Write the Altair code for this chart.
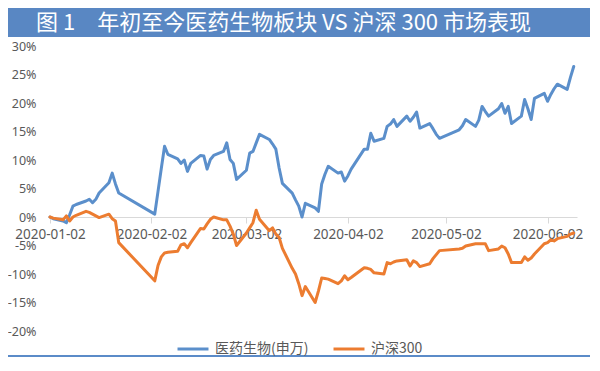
import altair as alt
import pandas as pd

title_text = "图 1　年初至今医药生物板块 VS 沪深 300 市场表现"
series_names = ["医药生物(申万)", "沪深300"]
series_colors = ["#5B8FCB", "#EC7C30"]

med_dates = [
    "2020-01-02", "2020-01-03", "2020-01-06", "2020-01-07", "2020-01-08", "2020-01-09", "2020-01-10",
    "2020-01-13", "2020-01-14", "2020-01-15", "2020-01-16", "2020-01-17", "2020-01-20", "2020-01-21",
    "2020-01-22", "2020-01-23", "2020-02-03", "2020-02-04", "2020-02-05", "2020-02-06", "2020-02-07",
    "2020-02-10", "2020-02-11", "2020-02-12", "2020-02-13", "2020-02-14", "2020-02-17", "2020-02-18",
    "2020-02-19", "2020-02-20", "2020-02-21", "2020-02-24", "2020-02-25", "2020-02-26", "2020-02-27",
    "2020-02-28", "2020-03-02", "2020-03-03", "2020-03-04", "2020-03-05", "2020-03-06", "2020-03-09",
    "2020-03-10", "2020-03-11", "2020-03-12", "2020-03-13", "2020-03-16", "2020-03-17", "2020-03-18",
    "2020-03-19", "2020-03-20", "2020-03-23", "2020-03-24", "2020-03-25", "2020-03-26", "2020-03-27",
    "2020-03-30", "2020-03-31", "2020-04-01", "2020-04-02", "2020-04-03", "2020-04-07", "2020-04-08",
    "2020-04-09", "2020-04-10", "2020-04-13", "2020-04-14", "2020-04-15", "2020-04-16", "2020-04-17",
    "2020-04-20", "2020-04-21", "2020-04-22", "2020-04-23", "2020-04-24", "2020-04-27", "2020-04-28",
    "2020-04-29", "2020-04-30", "2020-05-06", "2020-05-07", "2020-05-08", "2020-05-11", "2020-05-12",
    "2020-05-13", "2020-05-14", "2020-05-15", "2020-05-18", "2020-05-19", "2020-05-20", "2020-05-21",
    "2020-05-22", "2020-05-25", "2020-05-26", "2020-05-27", "2020-05-28", "2020-05-29", "2020-06-01",
    "2020-06-02", "2020-06-03", "2020-06-04", "2020-06-05", "2020-06-08", "2020-06-09", "2020-06-10",
]
med_values = [
    0.0, -0.3, -0.7, -1.0, 0.4, 1.9, 2.2,
    2.8, 3.1, 2.5, 3.1, 4.2, 6.0, 7.7,
    5.8, 4.2, 0.5, 4.5, 8.5, 12.4, 11.0,
    10.2, 9.4, 10.0, 8.0, 9.4, 10.8, 10.7,
    8.4, 10.1, 10.8, 11.5, 13.0, 10.1, 9.4,
    6.6, 8.2, 11.2, 11.5, 13.0, 14.5, 13.6,
    12.8, 11.9, 8.6, 5.9, 4.2, 3.0, 1.9,
    0.0, 2.4, 1.6, 1.0, 5.8, 7.5, 8.9,
    7.7, 7.9, 6.3, 7.2, 8.4, 11.9, 11.9,
    14.7, 13.3, 13.8, 15.9, 16.3, 17.1, 15.9,
    17.7, 16.8, 17.5, 18.4, 15.6, 16.4, 15.5,
    14.5, 13.8, 15.3, 16.0, 17.1, 15.9, 17.0,
    19.4, 18.5, 17.7, 19.0, 19.9, 18.2, 19.4,
    16.4, 17.7, 20.6, 19.0, 17.1, 20.8, 21.7,
    20.3, 21.5, 22.5, 23.3, 22.4, 24.5, 26.4,
]

hs_dates = [
    "2020-01-02", "2020-01-03", "2020-01-06", "2020-01-07", "2020-01-08", "2020-01-09", "2020-01-10",
    "2020-01-13", "2020-01-14", "2020-01-15", "2020-01-16", "2020-01-17", "2020-01-20", "2020-01-21",
    "2020-01-22", "2020-01-23", "2020-02-03", "2020-02-04", "2020-02-05", "2020-02-06", "2020-02-07",
    "2020-02-10", "2020-02-11", "2020-02-12", "2020-02-13", "2020-02-14", "2020-02-17", "2020-02-18",
    "2020-02-19", "2020-02-20", "2020-02-21", "2020-02-24", "2020-02-25", "2020-02-26", "2020-02-27",
    "2020-02-28", "2020-03-02", "2020-03-03", "2020-03-04", "2020-03-05", "2020-03-06", "2020-03-09",
    "2020-03-10", "2020-03-11", "2020-03-12", "2020-03-13", "2020-03-16", "2020-03-17", "2020-03-18",
    "2020-03-19", "2020-03-20", "2020-03-23", "2020-03-24", "2020-03-25", "2020-03-26", "2020-03-27",
    "2020-03-30", "2020-03-31", "2020-04-01", "2020-04-02", "2020-04-03", "2020-04-07", "2020-04-08",
    "2020-04-09", "2020-04-10", "2020-04-13", "2020-04-14", "2020-04-15", "2020-04-16", "2020-04-17",
    "2020-04-20", "2020-04-21", "2020-04-22", "2020-04-23", "2020-04-24", "2020-04-27", "2020-04-28",
    "2020-04-29", "2020-04-30", "2020-05-06", "2020-05-07", "2020-05-08", "2020-05-11", "2020-05-12",
    "2020-05-13", "2020-05-14", "2020-05-15", "2020-05-18", "2020-05-19", "2020-05-20", "2020-05-21",
    "2020-05-22", "2020-05-25", "2020-05-26", "2020-05-27", "2020-05-28", "2020-05-29", "2020-06-01",
    "2020-06-02", "2020-06-03", "2020-06-04", "2020-06-05", "2020-06-08", "2020-06-09", "2020-06-10",
]
hs_values = [
    0.0, -0.2, -0.5, 0.2, -0.7, 0.0, 0.3,
    1.0, 0.8, 0.5, 0.2, -0.1, 0.5, -0.3,
    -0.7, -4.5, -11.2, -8.5, -7.0, -6.3, -6.2,
    -6.0, -4.9, -4.7, -5.4, -4.5, -2.0, -2.1,
    -1.2, -0.4, 0.0, -0.5, -0.5, -1.6, -3.0,
    -5.0, -2.8, -1.9, -1.0, 1.2, -0.4, -2.4,
    -1.9, -3.0, -3.6, -5.5, -9.0, -10.0, -11.7,
    -13.8, -12.2, -15.0, -13.0, -10.7, -10.8, -10.9,
    -11.7, -11.2, -10.3, -11.0, -10.6, -8.9, -9.0,
    -9.2, -9.8, -10.0, -8.0, -8.2, -7.9, -7.7,
    -7.5, -8.6, -7.7, -8.0, -8.7, -8.2, -7.3,
    -6.6, -5.9, -5.6, -5.5, -5.1, -4.7, -4.7,
    -4.7, -4.7, -5.9, -5.6, -5.1, -5.4, -6.5,
    -8.0, -8.0, -7.0, -7.6, -7.2, -6.5, -4.7,
    -4.5, -4.0, -4.2, -3.8, -3.4, -3.0, -2.8,
]

y_ticks = [-20, -15, -10, -5, 0, 5, 10, 15, 20, 25, 30]
x_tick_dates = [(2020, 1, 2), (2020, 2, 2), (2020, 3, 2), (2020, 4, 2), (2020, 5, 2), (2020, 6, 2)]
x_domain = [(2020, 1, 2), (2020, 6, 11)]

df = pd.concat([
    pd.DataFrame({"date": pd.to_datetime(med_dates), "value": med_values, "series": series_names[0]}),
    pd.DataFrame({"date": pd.to_datetime(hs_dates), "value": hs_values, "series": series_names[1]}),
])

def dt(t):
    return alt.DateTime(year=t[0], month=t[1], date=t[2])

label_color = "#595959"

lines = alt.Chart(df).mark_line(strokeWidth=3, strokeJoin="round", strokeCap="round").encode(
    x=alt.X(
        "date:T",
        scale=alt.Scale(domain=[dt(d) for d in x_domain]),
        axis=alt.Axis(
            values=[dt(d) for d in x_tick_dates], format="%Y-%m-%d", title=None, grid=False,
            offset=-114, domainColor="#D9D9D9", tickColor="#D9D9D9", tickSize=6,
            labelPadding=4, labelFontSize=13.5, labelColor=label_color, labelFont="Noto Sans",
            labelOverlap=False, labelFlush=False, labelBound=False,
        ),
    ),
    y=alt.Y(
        "value:Q",
        scale=alt.Scale(domain=[-20, 30], nice=False),
        axis=alt.Axis(
            values=y_ticks, labelExpr="datum.value + '%'", title=None, grid=False, ticks=False,
            domain=False, labelPadding=14, labelFontSize=12.5, labelColor=label_color, labelFont="Noto Sans",
            labelOverlap=False,
        ),
    ),
    color=alt.Color(
        "series:N",
        scale=alt.Scale(domain=series_names, range=series_colors),
        sort=series_names,
        legend=alt.Legend(
            title=None, orient="none", legendX=126, legendY=286, direction="horizontal",
            symbolType="stroke", symbolSize=960, symbolStrokeWidth=3,
            labelFontSize=14, labelColor=label_color, labelFont="Noto Sans CJK SC",
            columnPadding=18, labelOffset=5, padding=0,
        ),
    ),
)

one = pd.DataFrame({"t": [title_text]})
bar = alt.Chart(one).mark_rect(color="#5987C3").encode(
    x=alt.value(-42), x2=alt.value(540), y=alt.value(-38), y2=alt.value(-9)
)
title = alt.Chart(one).mark_text(
    align="left", baseline="middle", font="Noto Sans CJK SC", fontSize=22, color="white"
).encode(x=alt.value(-14), y=alt.value(-23.5), text="t:N")
bottom = alt.Chart(one).mark_rule(color="#5B8BC8", strokeWidth=2).encode(
    x=alt.value(-42), x2=alt.value(540), y=alt.value(310)
)

chart = alt.layer(bar, title, lines, bottom).properties(
    width=527, height=285,
    autosize=alt.AutoSizeParams(type="none"),
    padding={"left": 42, "top": 38, "right": 13, "bottom": 27},
).configure_view(stroke=None)

chart.save("out.html", embed_options={"renderer": "svg", "actions": False})
